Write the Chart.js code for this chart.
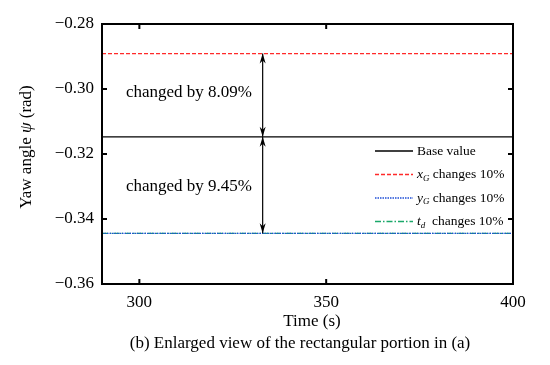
<!DOCTYPE html>
<html>
<head>
<meta charset="utf-8">
<script src="https://cdn.jsdelivr.net/npm/chart.js@4/dist/chart.umd.min.js"></script>
<style>
  html, body { margin: 0; padding: 0; background: #fff; }
  #wrap { width: 550px; height: 365px; }
</style>
</head>
<body>
<div id="wrap"><canvas id="yawChart" width="550" height="365"></canvas></div>
<script>
// time span of the enlarged view
const timeRange = [290, 400];
const xTicks = [300, 350, 400];
const yTicks = [-0.36, -0.34, -0.32, -0.30, -0.28];

// constant yaw angle levels (rad)
const baseValue = -0.3147;
const xgValue = -0.2891;
const ygValue = -0.3444;
const tdValue = -0.3444;

// annotation: arrow time and labels
const arrowTime = 333;
const annoLabels = ['changed by 8.09%', 'changed by 9.45%'];

const serif = '"Liberation Serif", "Times New Roman", serif';

const flat = v => timeRange.map(t => ({ x: t, y: v }));

const fmt = v => (v < 0 ? '\u2212' : '') + Math.abs(v).toFixed(2);

const framePlugin = {
    id: 'frame',
    afterDraw(chart) {
        const { ctx, chartArea: a, scales } = chart;
        const xs = scales.x, ys = scales.y;
        ctx.save();

        // frame
        ctx.strokeStyle = '#000';
        ctx.lineWidth = 2;
        ctx.strokeRect(a.left, a.top, a.right - a.left, a.bottom - a.top);

        // inward ticks
        ctx.lineWidth = 2;
        ctx.beginPath();
        xTicks.forEach(t => {
            const px = xs.getPixelForValue(t);
            ctx.moveTo(px, a.bottom); ctx.lineTo(px, a.bottom - 5);
            ctx.moveTo(px, a.top); ctx.lineTo(px, a.top + 5);
        });
        yTicks.forEach(t => {
            const py = ys.getPixelForValue(t);
            ctx.moveTo(a.left, py); ctx.lineTo(a.left + 5, py);
            ctx.moveTo(a.right, py); ctx.lineTo(a.right - 5, py);
        });
        ctx.stroke();

        // double arrows
        const ax = xs.getPixelForValue(arrowTime);
        const yTop = ys.getPixelForValue(xgValue);
        const yMid = ys.getPixelForValue(baseValue);
        const yBot = ys.getPixelForValue(tdValue);
        const arrow = (y1, y2) => {
            ctx.lineWidth = 1.2;
            ctx.beginPath();
            ctx.moveTo(ax, y1); ctx.lineTo(ax, y2);
            ctx.stroke();
            [[y1, 1], [y2, -1]].forEach(([y, d]) => {
                ctx.beginPath();
                ctx.moveTo(ax, y);
                ctx.lineTo(ax - 3, y + d * 10);
                ctx.lineTo(ax, y + d * 7);
                ctx.lineTo(ax + 3, y + d * 10);
                ctx.closePath();
                ctx.fillStyle = '#000';
                ctx.fill();
            });
        };
        arrow(yTop, yMid);
        arrow(yMid, yBot);

        // annotation text
        ctx.fillStyle = '#000';
        ctx.font = '17px ' + serif;
        ctx.textAlign = 'center';
        ctx.textBaseline = 'middle';
        ctx.fillText(annoLabels[0], 189, (yTop + yMid) / 2 - 3);
        ctx.fillText(annoLabels[1], 189, (yMid + yBot) / 2 + 1);

        // legend
        const rows = [
            { color: '#000', dash: [], main: 'Base value' },
            { color: '#ff2a2a', dash: [4, 2], sym: 'x', sub: 'G', main: ' changes 10%' },
            { color: '#1f4fd6', dash: [1.5, 1], sym: 'y', sub: 'G', main: ' changes 10%' },
            { color: '#1aa86a', dash: [6, 2, 1.5, 2], sym: 't', sub: 'd', main: '  changes 10%' }
        ];
        ctx.textAlign = 'left';
        rows.forEach((r, i) => {
            const y = 151 + i * 23.5;
            ctx.strokeStyle = r.color;
            ctx.lineWidth = 1.3;
            ctx.setLineDash(r.dash);
            ctx.beginPath();
            ctx.moveTo(375, y); ctx.lineTo(413, y);
            ctx.stroke();
            ctx.setLineDash([]);
            let x = 417;
            ctx.fillStyle = '#000';
            if (r.sym) {
                ctx.font = 'italic 13.5px ' + serif;
                ctx.fillText(r.sym, x, y);
                x += ctx.measureText(r.sym).width;
                ctx.font = 'italic 9px ' + serif;
                ctx.fillText(r.sub, x, y + 4);
                x += ctx.measureText(r.sub).width;
            }
            ctx.font = '13.5px ' + serif;
            ctx.fillText(r.main, x, y);
        });

        // x axis title and caption
        ctx.textAlign = 'center';
        ctx.font = '17px ' + serif;
        ctx.fillText('Time (s)', 312, 322);
        ctx.fillText('(b) Enlarged view of the rectangular portion in (a)', 300, 344);

        // y axis title
        ctx.translate(27, 147);
        ctx.rotate(-Math.PI / 2);
        const parts = [['Yaw angle ', '17px '], ['\u03c8', 'italic 17px '], [' (rad)', '17px ']];
        let total = 0;
        parts.forEach(p => { ctx.font = p[1] + serif; total += ctx.measureText(p[0]).width; });
        let x0 = -total / 2;
        ctx.textAlign = 'left';
        parts.forEach(p => {
            ctx.font = p[1] + serif;
            ctx.fillText(p[0], x0, 0);
            x0 += ctx.measureText(p[0]).width;
        });
        ctx.restore();
    }
};

const ctx = document.getElementById('yawChart').getContext('2d');

new Chart(ctx, {
    type: 'line',
    data: {
        datasets: [
            { label: 'Base value', data: flat(baseValue), borderColor: '#000', borderWidth: 1.3 },
            { label: 'xG changes 10%', data: flat(xgValue), borderColor: '#ff2a2a', borderWidth: 1.2, borderDash: [4, 2] },
            { label: 'yG changes 10%', data: flat(ygValue), borderColor: '#1f4fd6', borderWidth: 1.2, borderDash: [1.5, 1] },
            { label: 'td changes 10%', data: flat(tdValue), borderColor: '#1aa86a', borderWidth: 1.2, borderDash: [6, 2, 1.5, 2] }
        ]
    },
    options: {
        responsive: false,
        animation: false,
        layout: { padding: { left: 0, right: 37, top: 24, bottom: 0 } },
        elements: { point: { radius: 0 } },
        plugins: {
            legend: { display: false },
            tooltip: { enabled: false }
        },
        scales: {
            x: {
                type: 'linear',
                min: timeRange[0],
                max: timeRange[1],
                grid: { display: false },
                border: { display: false },
                afterBuildTicks: s => { s.ticks = xTicks.map(v => ({ value: v })); },
                afterFit: s => { s.height = 81; },
                ticks: {
                    color: '#000',
                    font: { family: serif, size: 17 },
                    padding: 0
                }
            },
            y: {
                min: -0.36,
                max: -0.28,
                grid: { display: false },
                border: { display: false },
                afterBuildTicks: s => { s.ticks = yTicks.map(v => ({ value: v })); },
                afterFit: s => { s.width = 102; },
                ticks: {
                    color: '#000',
                    font: { family: serif, size: 17 },
                    padding: 0,
                    callback: v => fmt(v)
                }
            }
        }
    },
    plugins: [framePlugin]
});
</script>
</body>
</html>
